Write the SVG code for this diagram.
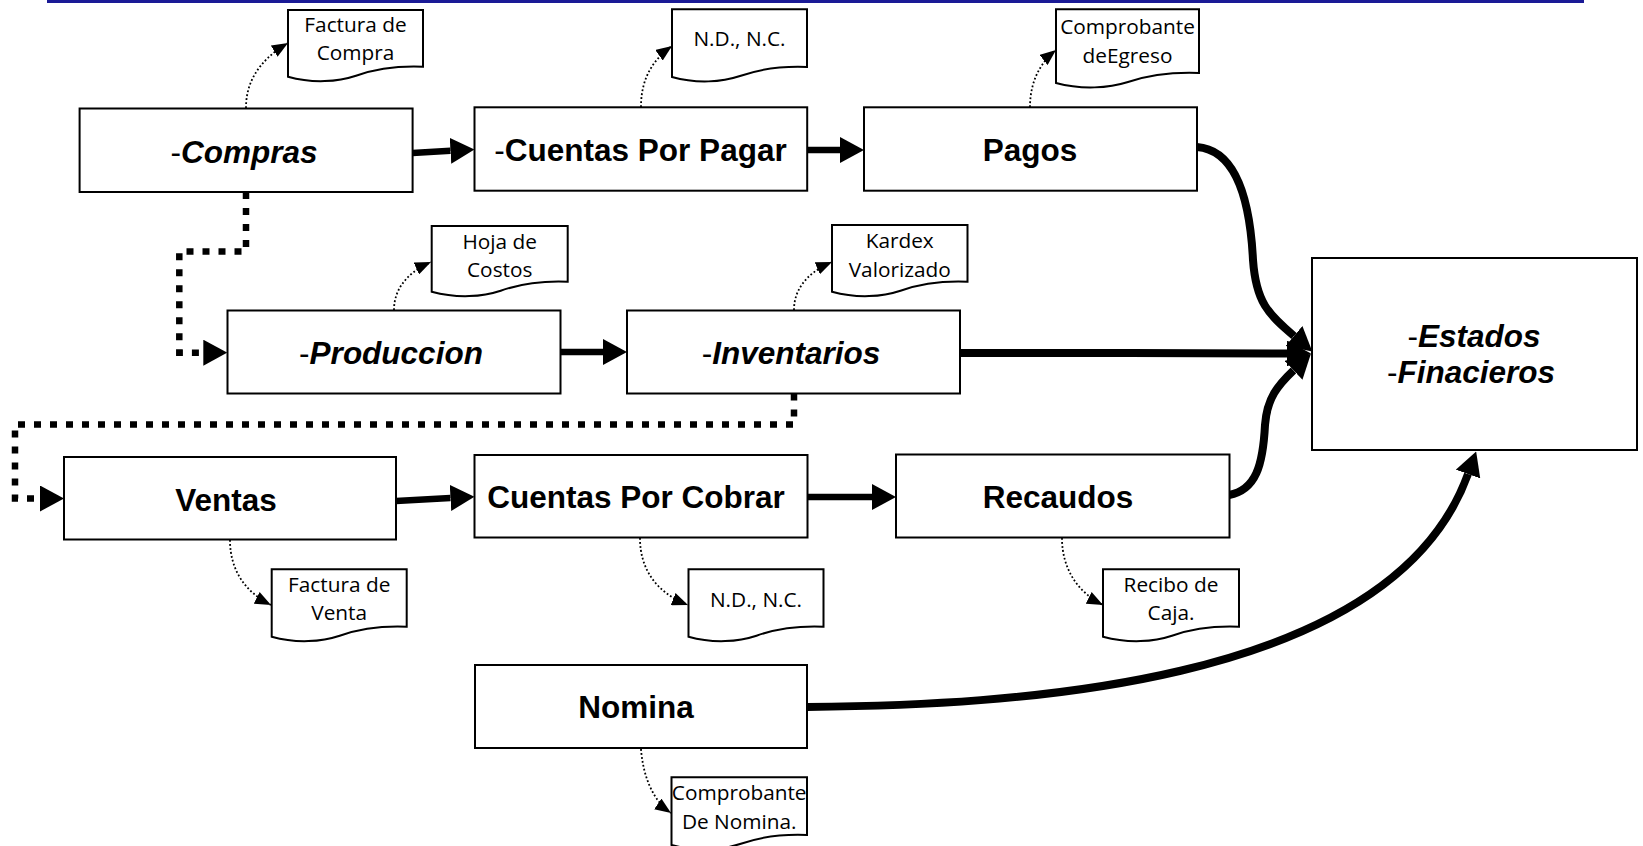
<svg xmlns="http://www.w3.org/2000/svg" width="1643" height="846" viewBox="0 0 1643 846">
<style>
.box{fill:#fff;stroke:#000;stroke-width:2}
.doc{fill:#fff;stroke:#000;stroke-width:2}
.lbl{font-family:"Liberation Sans",Arial,sans-serif;font-size:31.5px;font-weight:bold;text-anchor:middle;fill:#000}
.it{font-style:italic}
.dash{font-weight:normal;font-style:normal}
.dtxt{font-family:"Open Sans","Noto Sans",sans-serif;font-size:20.8px;text-anchor:middle;fill:#000}
.thick{fill:none;stroke:#000;stroke-width:6.5;marker-end:url(#ah)}
.curve{fill:none;stroke:#000;stroke-width:8;marker-end:url(#ah)}
.sq{fill:none;stroke:#000;stroke-width:6.5;stroke-dasharray:7 9;marker-end:url(#ah)}
.thin{fill:none;stroke:#000;stroke-width:1.8;stroke-dasharray:1.8 2.2;marker-end:url(#sm)}
</style>
<defs>
<marker id="ah" markerUnits="userSpaceOnUse" viewBox="0 0 24 26" markerWidth="24" markerHeight="26" refX="0" refY="13" orient="auto"><path d="M0,0 L24,13 L0,26 Z" fill="#000"/></marker>
<marker id="sm" markerUnits="userSpaceOnUse" viewBox="0 0 16 13" markerWidth="16" markerHeight="13" refX="16" refY="6.5" orient="auto"><path d="M0,0 L16,6.5 L0,13 Z" fill="#000"/></marker>
</defs>
<line x1="47" y1="1.5" x2="1584" y2="1.5" stroke="#1a1a96" stroke-width="3"/>

<g id="connectors">
<path class="thick" d="M412.5,153 L450.5,150.8"/>
<path class="thick" d="M807,150 L840,150"/>
<path class="thick" d="M561,352 L603,352"/>
<path class="thick" d="M396,501 L450.5,498"/>
<path class="thick" d="M808,497 L872,497"/>
<path class="curve" d="M960,353 L1130,353 L1287,353.5"/>
<path class="curve" d="M1197,147 C1236,150 1250,200 1253,260 C1256,302 1268,314 1294,336"/>
<path class="curve" d="M1229,495 C1256,490 1263,465 1265,425 C1267,398 1278,385 1293.5,370.3"/>
<path class="curve" d="M807,707 C1000,705 1390,690 1468,474"/>
<path class="sq" d="M246,192 V251.5 H179.3 V352.7 H203.3"/>
<path class="sq" d="M794,393.5 V424.5 H15 V498.5 H40"/>
<path class="thin" d="M246,108 C246,85 256,62 288,43"/>
<path class="thin" d="M641,107 C641,85 648,63 672,46"/>
<path class="thin" d="M1030,107 C1030,88 1036,66 1056,50"/>
<path class="thin" d="M394,310 C394,292 404,274 431,262"/>
<path class="thin" d="M794,310 C794,292 804,274 832,262"/>
<path class="thin" d="M230,540 C230,570 245,592 271,605"/>
<path class="thin" d="M640,538 C640,568 655,592 688,605"/>
<path class="thin" d="M1062,538 C1062,568 1077,592 1103,605"/>
<path class="thin" d="M641,749 C643,775 652,800 671,813"/>
</g>

<g id="compras"><rect class="box" x="79.6" y="108.5" width="333" height="83.5"/><text class="lbl it" x="244" y="163"><tspan class="dash">-</tspan>Compras</text></g>
<g id="cuentas-pagar"><rect class="box" x="474.5" y="107.3" width="332.7" height="83.4"/><text class="lbl" x="640.5" y="160.5"><tspan class="dash">-</tspan>Cuentas Por Pagar</text></g>
<g id="pagos"><rect class="box" x="864" y="107.3" width="333" height="83.4"/><text class="lbl" x="1030" y="160.5">Pagos</text></g>
<g id="produccion"><rect class="box" x="227.5" y="310.5" width="333" height="83"/><text class="lbl it" x="391" y="363.5"><tspan class="dash">-</tspan>Produccion</text></g>
<g id="inventarios"><rect class="box" x="627" y="310.5" width="333" height="83"/><text class="lbl it" x="791" y="363.5"><tspan class="dash">-</tspan>Inventarios</text></g>
<g id="estados"><rect class="box" x="1312" y="258" width="325" height="192"/><text class="lbl it" x="1474" y="346.7"><tspan class="dash">-</tspan>Estados</text><text class="lbl it" x="1471" y="383.3"><tspan class="dash">-</tspan>Finacieros</text></g>
<g id="ventas"><rect class="box" x="64" y="457" width="332" height="82.5"/><text class="lbl" x="226" y="510.5">Ventas</text></g>
<g id="cuentas-cobrar"><rect class="box" x="474.5" y="455" width="333" height="82.5"/><text class="lbl" x="636" y="508">Cuentas Por Cobrar</text></g>
<g id="recaudos"><rect class="box" x="896" y="454.5" width="333.5" height="83"/><text class="lbl" x="1058" y="508">Recaudos</text></g>
<g id="nomina"><rect class="box" x="475" y="665" width="332" height="83"/><text class="lbl" x="636" y="718.3">Nomina</text></g>

<g id="doc-factura-compra"><path class="doc" d="M288,10 h135 v56.7 c-25,-1 -50,3 -67,9 c-18,6 -43,8 -68,1 z"/><text class="dtxt" x="355.5" y="31.5">Factura de</text><text class="dtxt" x="355.5" y="60">Compra</text></g>
<g id="doc-nd-nc-1"><path class="doc" d="M672,9.3 h135 v57.7 c-25,-1 -50,3 -67,9 c-18,6 -43,8 -68,1 z"/><text class="dtxt" x="739.5" y="46">N.D., N.C.</text></g>
<g id="doc-egreso"><path class="doc" d="M1056,9.3 h143 v63.7 c-27,-1 -53,3 -71,9 c-19,6 -46,8 -72,1 z"/><text class="dtxt" x="1127.5" y="34">Comprobante</text><text class="dtxt" x="1127.5" y="62.5">deEgreso</text></g>
<g id="doc-hoja-costos"><path class="doc" d="M431.7,226 h136 v55.7 c-25,-1 -50,3 -67,9 c-18,6 -43,8 -69,1 z"/><text class="dtxt" x="499.7" y="248.5">Hoja de</text><text class="dtxt" x="499.7" y="276.5">Costos</text></g>
<g id="doc-kardex"><path class="doc" d="M832,225 h135.5 v56.7 c-25,-1 -50,3 -67,9 c-18,6 -43,8 -68.5,1 z"/><text class="dtxt" x="899.7" y="247.5">Kardex</text><text class="dtxt" x="899.7" y="276.5">Valorizado</text></g>
<g id="doc-factura-venta"><path class="doc" d="M271.7,569.3 h135 v57.4 c-25,-1 -50,3 -67,9 c-18,6 -43,8 -68,1 z"/><text class="dtxt" x="339.2" y="591.5">Factura de</text><text class="dtxt" x="339.2" y="620">Venta</text></g>
<g id="doc-nd-nc-2"><path class="doc" d="M688.5,569.3 h135 v57.4 c-25,-1 -50,3 -67,9 c-18,6 -43,8 -68,1 z"/><text class="dtxt" x="756" y="607">N.D., N.C.</text></g>
<g id="doc-recibo"><path class="doc" d="M1103,569.3 h136 v57.4 c-25,-1 -50,3 -67,9 c-18,6 -43,8 -69,1 z"/><text class="dtxt" x="1171" y="591.5">Recibo de</text><text class="dtxt" x="1171" y="620">Caja.</text></g>
<g id="doc-nomina"><path class="doc" d="M671.5,777.3 h135.5 v57.7 c-25,-1 -50,3 -67,9 c-18,6 -43,8 -68.5,1 z"/><text class="dtxt" x="739.2" y="800">Comprobante</text><text class="dtxt" x="739.2" y="828.5">De Nomina.</text></g>
</svg>
